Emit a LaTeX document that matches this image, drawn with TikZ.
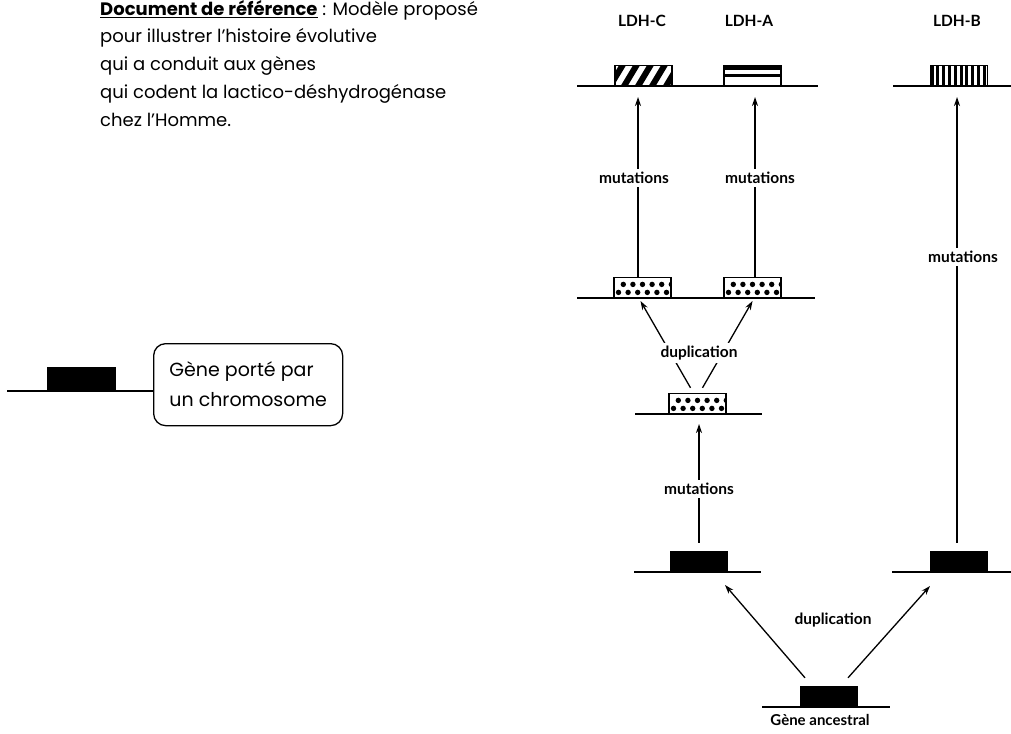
\documentclass[tikz,border=0pt]{standalone}
\usepackage{fontspec}
\setmainfont{Poppins}
\newfontfamily\labfont{Lato}
\usetikzlibrary{arrows.meta}
\begin{document}
\begin{tikzpicture}[x=1pt,y=-1pt,
  chrom/.style={line width=1.5pt},
  arr/.style={line width=1.3pt, -{Stealth[length=9pt,width=6pt]}},
  genebox/.style={draw, line width=1.2pt, minimum width=57pt, minimum height=20pt, inner sep=0pt, anchor=south},
  solidgene/.style={genebox, fill=black},
  hatchgene/.style={genebox, fill=white, path picture={
    \foreach \k in {0,1,2,3,4} {
      \fill[black] ([xshift={\k*14pt-8pt}]path picture bounding box.south west) -- ++(7pt,0pt) -- ++(12pt,20pt) -- ++(-7pt,0pt) -- cycle;
    }}},
  hstripegene/.style={genebox, fill=white, path picture={
    \fill[black] (path picture bounding box.north west) rectangle ([yshift=-5pt]path picture bounding box.north east);
    \fill[black] ([yshift=-8.5pt]path picture bounding box.north west) rectangle ([yshift=-11.5pt]path picture bounding box.north east);
    }},
  vstripegene/.style={genebox, fill=white, path picture={
    \foreach \k in {0,...,9} {
      \fill[black] ([xshift={\k*5.8pt}]path picture bounding box.south west) rectangle ++(3pt,20pt);
    }}},
  dotgene/.style={genebox, fill=white, path picture={
    \foreach \k in {0,...,5} {
      \fill[black] ([xshift={4.5pt+\k*9.6pt},yshift=5pt]path picture bounding box.south west) circle (2.7pt);
      \fill[black] ([xshift={9.3pt+\k*9.6pt},yshift=13pt]path picture bounding box.south west) circle (2.7pt);
    }}},
  lab/.style={font=\labfont\bfseries\fontsize{15.5}{18}\selectfont, inner sep=1.5pt},
  midlab/.style={lab, fill=white, inner sep=3pt},
]
\useasboundingbox (0,0) rectangle (1011,733);

% ---------- left part ----------
\node[anchor=north west, inner sep=0pt, align=left, font=\fontsize{18}{27.7}\selectfont] (doc) at (100,0)
  {\underline{\textbf{Document de référence}} : Modèle proposé\\
   pour illustrer l'histoire évolutive\\
   qui a conduit aux gènes\\
   qui codent la lactico-déshydrogénase\\
   chez l'Homme.};

\node[draw, rounded corners=12pt, line width=1.3pt, anchor=north west,
      minimum width=189pt, minimum height=82pt,
      align=left, font=\fontsize{19}{30}\selectfont] (call) at (153,343)
  {Gène porté par\\un chromosome};
\coordinate (l0) at (7,391);
\draw[chrom] (l0) -- (call.west |- l0);
\node[solidgene, minimum width=67pt, minimum height=23pt] (lg) at (81.5,391) {};

% ---------- chromosome lines ----------
\draw[chrom] (577,86) -- (818,86);
\draw[chrom] (893,86) -- (1011,86);
\draw[chrom] (577,298) -- (815,298);
\draw[chrom] (635,414) -- (762,414);
\draw[chrom] (634,572) -- (761,572);
\draw[chrom] (892,572) -- (1011,572);
\draw[chrom] (762,707) -- (890,707);

% ---------- genes ----------
\node[hatchgene]   (C)   at (643.5,86) {};
\node[hstripegene] (A)   at (752.5,86) {};
\node[vstripegene] (B)   at (959,86) {};
\node[dotgene]     (mC)  at (642.5,298) {};
\node[dotgene]     (mA)  at (752.5,298) {};
\node[dotgene]     (cen) at (697.5,414) {};
\node[solidgene]   (bl)  at (699,572) {};
\node[solidgene]   (br)  at (959,572) {};
\node[solidgene]   (anc) at (829,707) {};

% ---------- labels on top ----------
\node[lab] (lC) at (642,21) {LDH-C};
\node[lab] (lA) at (749,21) {LDH-A};
\node[lab] (lB) at (957,21) {LDH-B};
\node[lab, inner sep=0pt, font=\labfont\bfseries\fontsize{15}{18}\selectfont] (lanc) at (820,720) {Gène ancestral};

% ---------- arrows ----------
\coordinate (tC) at (638,97);
\coordinate (tA) at (755,97);
\coordinate (tB) at (957,97);
\coordinate (tM) at (699,424);
\draw[arr] (mC.north -| tC) -- (tC);
\draw[arr] (mA.north -| tA) -- (tA);
\draw[arr, shorten <=8pt] (br.north -| tB) -- (tB);
\draw[arr, shorten <=8pt] (bl.north -| tM) -- (tM);

\draw[arr] ([xshift=-7pt,yshift=5pt]cen.north) -- ([xshift=-2pt,yshift=-3pt]mC.south);
\draw[arr] ([xshift=5pt,yshift=5pt]cen.north) -- ([yshift=-3pt]mA.south);

\draw[arr] ([xshift=-24pt,yshift=8pt]anc.north) -- ([xshift=26pt,yshift=-13pt]bl.south);
\draw[arr] ([xshift=19pt,yshift=8pt]anc.north) -- ([xshift=-29pt,yshift=-14pt]br.south);

% ---------- arrow labels ----------
\node[midlab] (m1) at (634,178) {mutations};
\node[midlab] (m2) at (760,178) {mutations};
\node[midlab] (m3) at (963,257) {mutations};
\node[midlab] (m4) at (699,489) {mutations};
\node[midlab] (d1) at (699,353) {duplication};
\node[lab]    (d2) at (833,620) {duplication};
\end{tikzpicture}
\end{document}
